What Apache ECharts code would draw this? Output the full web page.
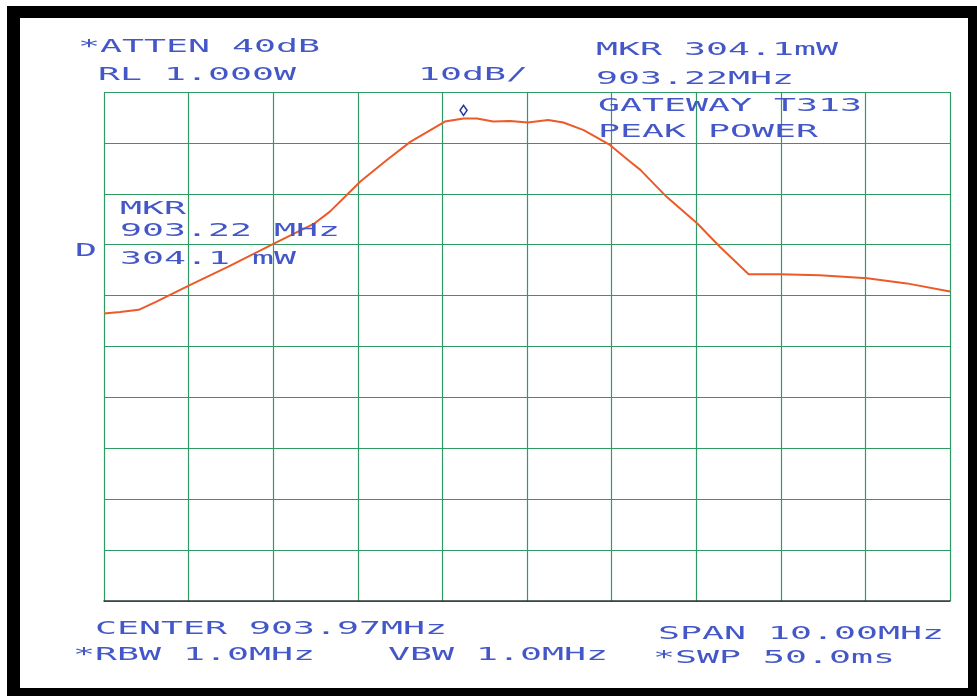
<!DOCTYPE html>
<html>
<head>
<meta charset="utf-8">
<script src="https://cdn.jsdelivr.net/npm/echarts@6/dist/echarts.min.js"></script>
<style>
html,body{margin:0;padding:0;background:#fff;}
#frame{position:absolute;left:7px;top:6px;width:970px;height:690px;background:#000;}
#paper{position:absolute;left:20px;top:18px;width:948px;height:670px;background:#fff;}
#chart{position:absolute;left:0;top:0;width:977px;height:696px;}
</style>
</head>
<body>
<div id="frame"></div>
<div id="paper"></div>
<div id="chart"></div>
<script>
// Spectrum analyzer settings
const CENTER_MHZ = 903.97;
const SPAN_MHZ = 10.0;
const REF_DBM = 30;          // RL 1.000W
const DB_PER_DIV = 10;
const MARKER_MHZ = 903.22;
const MARKER_DBM = 24.83;    // 304.1 mW

// Trace
const freqMHz = [898.97, 899.16, 899.38, 899.59, 899.99, 900.44, 900.99, 901.46, 901.64, 901.86,
  902.00, 902.31, 902.59, 903.00, 903.22, 903.38, 903.57, 903.77, 903.98, 904.22,
  904.40, 904.64, 904.95, 905.19, 905.31, 905.62, 905.98, 906.25, 906.59, 906.96,
  907.43, 907.99, 908.46, 908.97];
const levelDbm = [-13.5, -13.2, -12.8, -11.2, -7.9, -4.3, 0.3, 4.2, 6.5, 10.1,
  12.4, 16.6, 20.2, 24.2, 24.8, 24.8, 24.2, 24.3, 24.0, 24.5,
  24.0, 22.5, 19.6, 16.3, 14.7, 9.4, 4.2, -0.4, -5.8, -5.8,
  -6.0, -6.6, -7.6, -9.2];

// Annotation texts
const textTopLeft = ['*ATTEN 40dB', 'RL 1.000W'];
const textScale = '10dB/';
const textTopRight = ['MKR 304.1mW', '903.22MHz', 'GATEWAY T313', 'PEAK POWER'];
const textMarker = ['MKR', '903.22 MHz', '304.1 mW'];
const textD = 'D';
const textBottom = ['CENTER 903.97MHz', 'SPAN 10.00MHz', '*RBW 1.0MHz', 'VBW 1.0MHz', '*SWP 50.0ms'];

const BLUE = '#4457c8';
const GREEN = '#2f9a63';
const TRACE = '#ec5a2a';
const FONT = '18px "DejaVu Sans Mono"';
const SX = 2.03;

function txt(s, x, y) {
  return {
    type: 'text', x: x, y: y, scaleX: SX, scaleY: 1,
    style: { text: s, x: 0, y: 0, font: FONT, fill: BLUE, textVerticalAlign: 'middle', verticalAlign: 'middle', textAlign: 'left', align: 'left' },
    z: 10
  };
}

const traceData = freqMHz.map((f, i) => [f - CENTER_MHZ, levelDbm[i]]);

const chart = echarts.init(document.getElementById('chart'), null, { renderer: 'canvas' });
chart.setOption({
  animation: false,
  backgroundColor: 'transparent',
  grid: { left: 104, top: 92, width: 846, height: 509, containLabel: false },
  xAxis: {
    type: 'value', min: -SPAN_MHZ / 2, max: SPAN_MHZ / 2, interval: 1,
    axisLine: { show: true, onZero: false, lineStyle: { color: '#2c3a36', width: 1.5 } },
    axisTick: { show: false }, axisLabel: { show: false },
    splitLine: { show: true, lineStyle: { color: GREEN, width: 1.2 } }
  },
  yAxis: {
    type: 'value', min: REF_DBM - 10 * DB_PER_DIV, max: REF_DBM, interval: DB_PER_DIV,
    axisLine: { show: false }, axisTick: { show: false }, axisLabel: { show: false },
    splitLine: { show: true, lineStyle: { color: GREEN, width: 1.2 } }
  },
  series: [{
    type: 'line', data: traceData, showSymbol: false, smooth: false,
    lineStyle: { color: TRACE, width: 2 },
    markPoint: {
      symbol: 'diamond', symbolSize: [7, 10], symbolOffset: [0, -8],
      label: { show: false },
      itemStyle: { color: '#fff', borderColor: '#2438a8', borderWidth: 1.6 },
      data: [{ coord: [MARKER_MHZ - CENTER_MHZ, MARKER_DBM] }]
    }
  }],
  graphic: [
    txt(textTopLeft[0], 78, 47),
    txt(textTopLeft[1], 98, 75),
    txt(textScale, 418, 75),
    txt(textTopRight[0], 596, 50),
    txt(textTopRight[1], 596, 79),
    txt(textTopRight[2], 598, 106),
    txt(textTopRight[3], 598, 132),
    txt(textMarker[0], 120, 209),
    txt(textMarker[1], 120, 231),
    txt(textMarker[2], 120, 259),
    txt(textD, 75, 251),
    txt(textBottom[0], 95, 629),
    txt(textBottom[1], 658, 634),
    txt(textBottom[2], 73, 655),
    txt(textBottom[3], 388, 655),
    txt(textBottom[4], 653, 658)
  ]
});
</script>
</body>
</html>
